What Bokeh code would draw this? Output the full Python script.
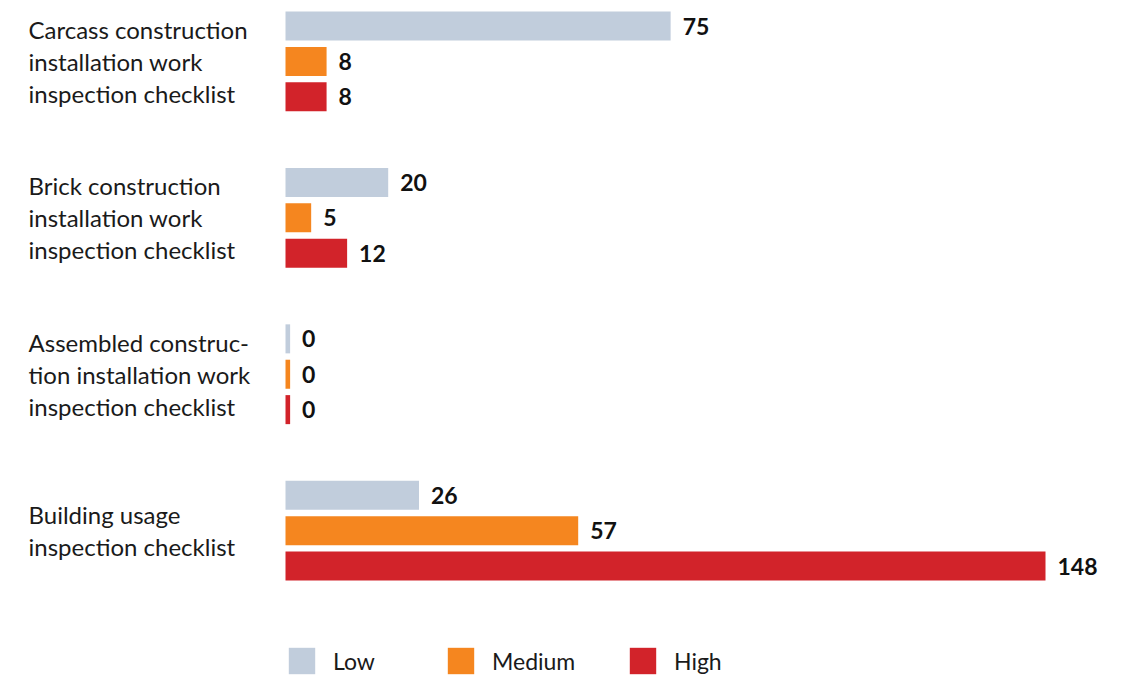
import numpy as np
from bokeh.plotting import figure
from bokeh.models import ColumnDataSource, Range1d, Legend, LegendItem
from bokeh.core.properties import value
from bokeh.embed import file_html
from bokeh.resources import INLINE

categories = [
    "Carcass construction\ninstallation work\ninspection checklist",
    "Brick construction\ninstallation work\ninspection checklist",
    "Assembled construc-\ntion installation work\ninspection checklist",
    "Building usage\ninspection checklist",
]
levels = ["Low", "Medium", "High"]
low_values = [75, 20, 0, 26]
medium_values = [8, 5, 0, 57]
high_values = [8, 12, 0, 148]
colors = ["#C1CDDC", "#F5861F", "#D2232A"]

FONT = "Lato"
W, H = 1107, 677
px_per_unit = 760 / 148.0
x0 = -285 / px_per_unit
x_range = Range1d(start=x0, end=x0 + W / px_per_unit)

group_pitch = 4.42
unit_px = 35.39
y_top = -25.5 / unit_px
y_range = Range1d(start=y_top + H / unit_px, end=y_top)

p = figure(width=W, height=H, x_range=x_range, y_range=y_range,
           output_backend="svg", toolbar_location=None,
           min_border=0, min_border_left=0, min_border_right=0,
           min_border_top=0, min_border_bottom=0)
p.axis.visible = False
p.grid.visible = False
p.outline_line_color = None
p.background_fill_color = "white"
p.border_fill_color = "white"

series = [low_values, medium_values, high_values]
renderers = []
for li, (lvl, vals, col) in enumerate(zip(levels, series, colors)):
    vals = np.array(vals, dtype=float)
    ys = np.arange(len(vals)) * group_pitch + li
    src = ColumnDataSource(dict(
        y=ys,
        right=np.maximum(vals, 0.9),
        val=vals,
        lab=[str(int(v)) for v in vals],
    ))
    r = p.hbar(y="y", left=0, right="right", height=0.82, source=src,
               fill_color=col, line_color=None)
    renderers.append(r)
    p.text(x="right", y="y", text="lab", source=src, x_offset=12,
           text_align="left", text_baseline="middle",
           text_font=value(FONT), text_font_style="bold",
           text_font_size="23px", text_color="#111111")

cat_src = ColumnDataSource(dict(
    x=[0] * len(categories),
    y=np.arange(len(categories)) * group_pitch + 1,
    t=categories,
))
p.text(x="x", y="y", text="t", source=cat_src, x_offset=-257,
       text_align="left", text_baseline="middle",
       text_font=value(FONT), text_font_size="24px",
       text_line_height=1.1, text_color="#1a1a1a")

legend_x = [285, 444, 626]
for lvl, r, lx in zip(levels, renderers, legend_x):
    leg = Legend(items=[LegendItem(label=lvl, renderers=[r])],
                 location=(lx, 0), orientation="horizontal",
                 glyph_width=33, glyph_height=33, label_standoff=15,
                 padding=0, margin=0, spacing=0,
                 label_text_font=FONT, label_text_font_size="23px",
                 label_text_color="#1a1a1a",
                 background_fill_alpha=0, border_line_alpha=0)
    p.add_layout(leg, "center")

open("out.html", "w").write(file_html(p, INLINE))
